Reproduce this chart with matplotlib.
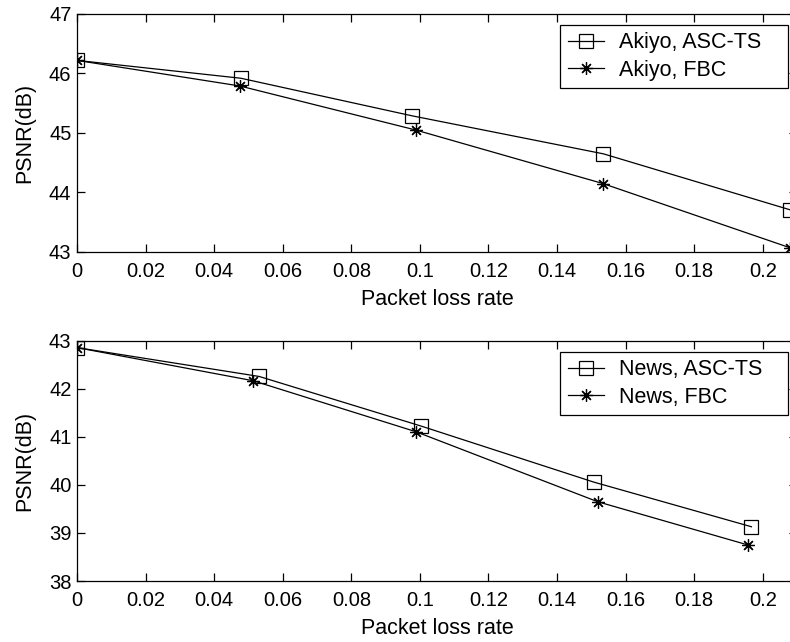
import matplotlib
matplotlib.use('Agg')
import matplotlib.pyplot as plt

# packet loss rate / PSNR
akiyo_x_asc = [0, 0.0478, 0.0976, 0.1535, 0.2079]
akiyo_asc = [46.22, 45.92, 45.29, 44.65, 43.71]
akiyo_x_fbc = [0, 0.0475, 0.0988, 0.1534, 0.2080]
akiyo_fbc = [46.22, 45.79, 45.05, 44.15, 43.07]

news_x_asc = [0, 0.0531, 0.1002, 0.1507, 0.1967]
news_asc = [42.86, 42.26, 41.23, 40.06, 39.13]
news_x_fbc = [0, 0.0514, 0.0988, 0.1519, 0.1957]
news_fbc = [42.86, 42.17, 41.11, 39.65, 38.75]

xticks = [0, 0.02, 0.04, 0.06, 0.08, 0.1, 0.12, 0.14, 0.16, 0.18, 0.2]
xticklabels = ['0', '0.02', '0.04', '0.06', '0.08', '0.1', '0.12', '0.14', '0.16', '0.18', '0.2']

plt.rcParams['font.family'] = ['Liberation Sans', 'DejaVu Sans']
plt.rcParams['font.size'] = 14.5

fig = plt.figure(figsize=(7.9, 6.42), dpi=100)
ax1 = fig.add_axes([0.0975, 0.6075, 0.9114, 0.3707])
ax2 = fig.add_axes([0.0975, 0.095, 0.9114, 0.374])

star = (8, 2, 0)

def draw(ax, xa, ya, xf, yf, name, ylim, yticks):
    ax.plot(xa, ya, color='black', lw=0.9, marker='s', ms=10,
            mfc='none', mec='black', mew=0.9, label=name + ', ASC-TS')
    ax.plot(xf, yf, color='black', lw=0.9, marker=star, ms=9,
            mec='black', mew=0.9, label=name + ', FBC')
    ax.set_xlim(0, 0.21)
    ax.set_ylim(*ylim)
    ax.set_yticks(yticks)
    ax.set_xticks(xticks)
    ax.set_xticklabels(xticklabels)
    ax.tick_params(direction='in', top=True, right=True, length=6, width=0.9)
    ax.tick_params(axis='x', pad=7)
    ax.tick_params(axis='y', pad=4)
    for s in ax.spines.values():
        s.set_linewidth(0.9)
    ax.set_xlabel('Packet loss rate', fontsize=15.5, labelpad=6)
    ax.set_ylabel('PSNR(dB)', fontsize=15.5, labelpad=10)
    # legend box stretched to the width it has in the original
    leg = ax.legend(loc='upper left', bbox_to_anchor=(0.6708, 0, 0.3167, 0.954),
                    mode='expand', fancybox=False, edgecolor='black', framealpha=1,
                    fontsize=15.5, borderpad=0.35, handlelength=1.7,
                    labelspacing=0.3, handletextpad=0.7, borderaxespad=0)
    leg.get_frame().set_linewidth(0.9)

draw(ax1, akiyo_x_asc, akiyo_asc, akiyo_x_fbc, akiyo_fbc, 'Akiyo', (43, 47), [43, 44, 45, 46, 47])
draw(ax2, news_x_asc, news_asc, news_x_fbc, news_fbc, 'News', (38, 43), [38, 39, 40, 41, 42, 43])

fig.savefig('out.png', dpi=100)
